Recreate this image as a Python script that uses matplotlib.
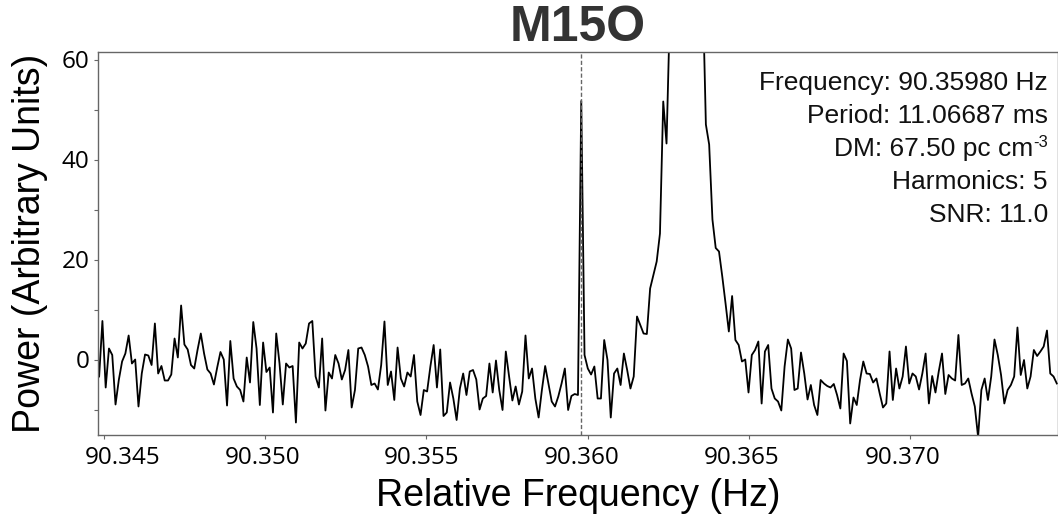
import numpy as np
import matplotlib
matplotlib.use("Agg")
import matplotlib.pyplot as plt
from matplotlib.transforms import ScaledTranslation

# ---- data ----
freq_start = 90.344845      # Hz, first bin
freq_step = 0.00010174      # Hz, bin width
power = [
    # 0-73
    -3.4, 7.7, -5.6, 2.2, 0.9, -9.0, -4.1, -0.4, 1.2, 4.8,
    -0.8, 0.0, -9.4, -2.8, 1.0, 0.8, -1.1, 7.2, -2.8, -1.3,
    -4.2, -4.2, -3.0, 4.2, 0.4, 10.8, 3.0, 2.0, -1.1, -1.8,
    1.9, 5.2, 1.2, -2.0, -2.8, -5.0, -1.6, 1.5, 0.0, -9.2,
    3.7, -3.8, -5.4, -6.1, -8.4, 0.4, -4.6, 7.5, 2.2, -9.1,
    3.4, -2.5, -1.6, -10.6, 5.2, -0.8, -9.0, -0.8, -1.6, -1.3,
    -12.6, 3.4, 2.2, 3.2, 7.2, 7.7, -3.4, -5.6, 4.2, -10.2,
    -2.6, -3.8, 0.9, -0.8,
    # 74-146
    -4.0, -2.1, 1.9, -9.6, -6.1, 2.2, 2.4, 0.9, -1.4, -5.1,
    -4.8, -6.0, -1.1, 7.6, -5.1, -2.4, -8.1, 2.4, -3.8, -5.4,
    -2.6, -3.4, 0.9, -8.4, -11.1, -6.1, -6.4, -1.4, 2.9, -5.6,
    2.0, -11.3, -10.6, -4.6, -7.8, -12.1, -5.8, -2.8, -7.1, -2.4,
    -2.1, -4.0, -10.0, -7.8, -7.3, -0.8, -6.6, -0.2, -6.1, -10.1,
    1.6, -3.4, -8.2, -5.4, -9.0, -6.4, 4.8, -3.8, -1.8, -7.8,
    -11.6, -6.1, -1.3, -4.8, -8.4, -9.4, -7.4, -4.8, -1.8, -10.1,
    -7.3, -6.9, -7.1,
    # 147 spike
    51.7,
    # 148-173
    0.9, -1.8, -3.0, -1.4, -7.8, -7.8, 3.9, -0.1, -11.6, -2.8,
    -1.8, -5.1, 1.2, -2.1, -5.8, -3.4, 8.6, 6.9, 5.2, 5.1,
    14.2, 16.9, 19.6, 25.2, 51.6, 43.2,
    # 174-184 main peak (off the top of the axes)
    69.0, 95.0, 130.0, 165.0, 190.0, 200.0, 185.0, 160.0, 125.0, 100.0, 75.0,
    # 185-219
    47.0, 43.0, 28.0, 22.3, 21.6, 16.6, 11.2, 5.6, 12.7, 3.9,
    2.9, -0.4, 0.0, -6.6, 0.9, 1.9, 3.6, -8.8, 1.6, 2.9,
    -5.8, -7.8, -8.4, -10.2, -1.4, 4.0, 2.2, -6.1, -5.8, 1.4,
    -2.8, -8.0, -5.1, -9.1, -11.1,
    # 220-292
    -4.1, -4.8, -5.3, -5.6, -4.9, -7.1, -9.8, 1.2, -0.3, -12.8,
    -7.6, -9.1, -4.1, -0.4, -2.8, -2.9, -4.6, -3.8, -6.8, -9.6,
    -8.8, 1.6, -8.1, -1.8, -5.8, -3.4, 2.6, -4.8, -2.8, -3.4,
    -6.0, -2.8, 1.2, -8.8, -3.3, -6.6, -2.4, 1.2, -6.9, -3.1,
    -3.8, -4.2, 4.9, -5.1, -4.8, -3.8, -6.8, -9.4, -15.5, -6.1,
    -3.8, -8.1, -3.4, 4.0, 0.9, -3.1, -8.8, -6.1, -5.1, -3.4,
    6.4, -3.1, -0.1, -5.8, -3.4, 1.9, 0.7, 1.6, 2.6, 5.8,
    -2.8, -3.4, -4.8,
]
candidate_freq = 90.35980
x_ticks = [90.345, 90.350, 90.355, 90.360, 90.365, 90.370]
y_ticks = [-10, 0, 10, 20, 30, 40, 50, 60]
y_labels = ["", "0", "", "20", "", "40", "", "60"]
info_lines = [
    ("Frequency: 90.35980 Hz", ""),
    ("Period: 11.06687 ms", ""),
    ("DM: 67.50 pc cm", "-3"),
    ("Harmonics: 5", ""),
    ("SNR: 11.0", ""),
]
title = "M15O"

freqs = freq_start + freq_step * np.arange(len(power))

# ---- figure ----
plt.rcParams["font.family"] = ["Liberation Sans", "DejaVu Sans"]

W, H = 1058, 519
fig = plt.figure(figsize=(W / 100, H / 100), dpi=100)
ax = fig.add_axes([98 / W, (H - 435) / H, (W - 98) / W, (435 - 52) / H])

ax.plot(freqs, power, color="black", lw=1.3, zorder=2)
ax.axvline(candidate_freq, color="#666666", lw=1.0, ls=(0, (3, 1.6)), zorder=3)

ax.set_xlim(90.34481, 90.37459)
ax.set_ylim(-15.1, 61.5)

ax.set_xticks(x_ticks)
ax.set_xticklabels([f"{t:.3f}" for t in x_ticks], fontfamily="Open Sans", fontsize=17.5)
ax.set_yticks(y_ticks)
ax.set_yticklabels(y_labels, fontfamily="Open Sans", fontsize=17.5)
ax.tick_params(axis="x", pad=5)
ax.tick_params(axis="y", pad=3)
ax.tick_params(axis="both", direction="out", length=3, width=0.8, color="#666666",
               labelcolor="black")

# small horizontal label shifts seen in the reference (pixels)
label_shift_px = [18, -3, -5, -6, -7, -7]
for lab, dx in zip(ax.get_xticklabels(), label_shift_px):
    lab.set_transform(lab.get_transform() + ScaledTranslation(dx / 100, 0, fig.dpi_scale_trans))

for s in ax.spines.values():
    s.set_color("#666666")
    s.set_linewidth(1.0)

ax.set_xlabel("Relative Frequency (Hz)", fontsize=27, labelpad=6)
ax.set_ylabel("Power (Arbitrary Units)", fontsize=27, labelpad=10)
ax.set_title(title, fontsize=36, fontweight="bold", color="#333333", pad=8)

fig.canvas.draw()
renderer = fig.canvas.get_renderer()
baselines_px = [90, 123, 156, 189, 222]
right_px = 1048
for (line, sup), ypx in zip(info_lines, baselines_px):
    xr = right_px
    if sup:
        st = fig.text(right_px / W, (H - ypx + 9) / H, sup, ha="right", va="baseline",
                      fontsize=12, color="#111111")
        xr = right_px - st.get_window_extent(renderer).width - 0.5
    fig.text(xr / W, (H - ypx) / H, line, ha="right", va="baseline",
             fontsize=19, color="#111111")

fig.savefig("out.png", dpi=100)
